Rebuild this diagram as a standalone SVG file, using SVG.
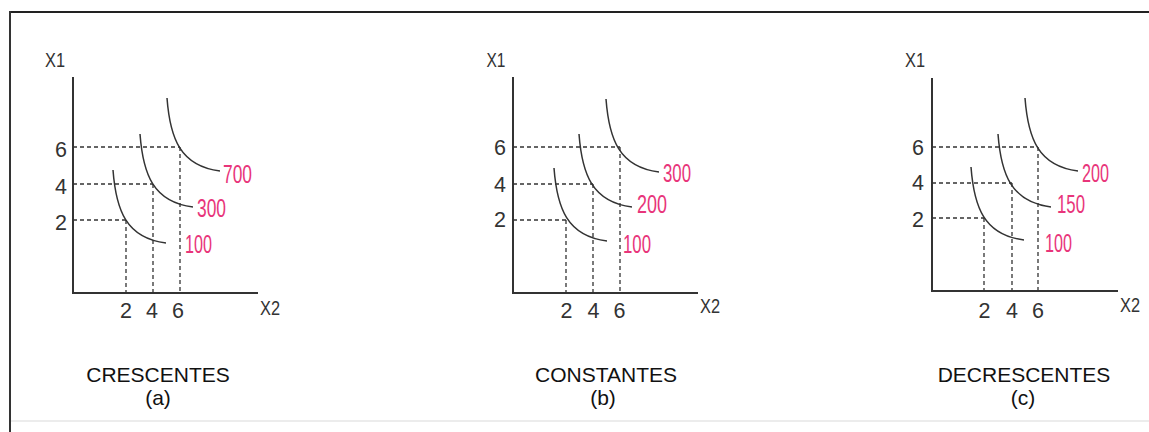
<svg xmlns="http://www.w3.org/2000/svg" width="1149" height="432" viewBox="0 0 1149 432">
<style>
.axis{fill:none;stroke:#333;stroke-width:2}
.curve{fill:none;stroke:#333;stroke-width:1.5}
.dash{fill:none;stroke:#333;stroke-width:1.3;stroke-dasharray:4 3}
.lab{font-family:"Liberation Sans",Arial,sans-serif;font-size:20px;fill:#333;text-anchor:middle}
.dig{font-family:"Liberation Sans",Arial,sans-serif;font-size:21.5px;fill:#333;text-anchor:middle}
.pink{font-family:"Liberation Sans",Arial,sans-serif;font-size:25px;fill:#e8357a}
.cap{font-family:"Liberation Sans",Arial,sans-serif;font-size:21px;fill:#111;text-anchor:middle}
</style>
<rect width="1149" height="432" fill="#fff"/>
<g id="frame">
<line x1="10" y1="12" x2="1149" y2="12" stroke="#222" stroke-width="2"/>
<line x1="10" y1="11" x2="10" y2="432" stroke="#333" stroke-width="2"/>
<line x1="11" y1="421" x2="1149" y2="421" stroke="#ececec" stroke-width="2"/>
</g>

<g id="panel-a">
<path class="axis" d="M73,77 V293 H258"/>
<g class="dash">
<path d="M73,147 H180 M73,184 H153 M73,220 H126"/>
<path d="M126,220 V293 M153,184 V293 M180,147 V293"/>
</g>
<g class="curve">
<path d="M113,170 c3,40 13,68 53,73"/>
<path d="M140,134 c3,40 13,68 53,73"/>
<path d="M167,98 c3,40 13,68 53,73"/>
</g>
<text class="lab" x="55" y="67" textLength="20" lengthAdjust="spacingAndGlyphs">X1</text>
<text class="lab" x="270" y="315" textLength="20" lengthAdjust="spacingAndGlyphs">X2</text>
<text class="dig" x="61" y="157">6</text>
<text class="dig" x="61" y="194">4</text>
<text class="dig" x="61" y="230">2</text>
<text class="dig" x="126" y="318">2</text>
<text class="dig" x="152" y="318">4</text>
<text class="dig" x="178" y="318">6</text>
<text class="pink" x="223" y="183" textLength="29" lengthAdjust="spacingAndGlyphs">700</text>
<text class="pink" x="197" y="217" textLength="29" lengthAdjust="spacingAndGlyphs">300</text>
<text class="pink" x="185" y="253" textLength="27" lengthAdjust="spacingAndGlyphs">100</text>
<text class="cap" x="158" y="382">CRESCENTES</text>
<text class="cap" x="158" y="405">(a)</text>
</g>

<g id="panel-b">
<path class="axis" d="M513,77 V293 H698"/>
<g class="dash">
<path d="M513,147 H620 M513,184 H593 M513,220 H566"/>
<path d="M566,220 V293 M593,184 V293 M620,147 V293"/>
</g>
<g class="curve">
<path d="M554,168 c3,40 13,68 53,73"/>
<path d="M579,134 c3,40 13,68 53,73"/>
<path d="M606,99 c3,40 13,68 53,73"/>
</g>
<text class="lab" x="496" y="67" textLength="19" lengthAdjust="spacingAndGlyphs">X1</text>
<text class="lab" x="710" y="313" textLength="20" lengthAdjust="spacingAndGlyphs">X2</text>
<text class="dig" x="500" y="155">6</text>
<text class="dig" x="500" y="192">4</text>
<text class="dig" x="500" y="227">2</text>
<text class="dig" x="566.5" y="318">2</text>
<text class="dig" x="593.5" y="318">4</text>
<text class="dig" x="619.5" y="318">6</text>
<text class="pink" x="663" y="182" textLength="28" lengthAdjust="spacingAndGlyphs">300</text>
<text class="pink" x="637" y="213" textLength="30" lengthAdjust="spacingAndGlyphs">200</text>
<text class="pink" x="623" y="253" textLength="28" lengthAdjust="spacingAndGlyphs">100</text>
<text class="cap" x="606" y="382">CONSTANTES</text>
<text class="cap" x="603" y="405">(b)</text>
</g>

<g id="panel-c">
<path class="axis" d="M932,78 V291 H1118"/>
<g class="dash">
<path d="M932,147 H1038 M932,183 H1012 M932,218 H984"/>
<path d="M984,218 V291 M1012,183 V291 M1038,147 V291"/>
</g>
<g class="curve">
<path d="M971,167 c3,40 13,68 53,73"/>
<path d="M998,134 c3,40 13,68 53,73"/>
<path d="M1025,98 c3,40 13,68 53,73"/>
</g>
<text class="lab" x="915" y="67" textLength="20" lengthAdjust="spacingAndGlyphs">X1</text>
<text class="lab" x="1130" y="312" textLength="20" lengthAdjust="spacingAndGlyphs">X2</text>
<text class="dig" x="918" y="155">6</text>
<text class="dig" x="918" y="190">4</text>
<text class="dig" x="918" y="227">2</text>
<text class="dig" x="984.5" y="318">2</text>
<text class="dig" x="1012" y="318">4</text>
<text class="dig" x="1038" y="318">6</text>
<text class="pink" x="1082" y="182" textLength="27" lengthAdjust="spacingAndGlyphs">200</text>
<text class="pink" x="1057" y="213" textLength="28" lengthAdjust="spacingAndGlyphs">150</text>
<text class="pink" x="1045" y="252" textLength="27" lengthAdjust="spacingAndGlyphs">100</text>
<text class="cap" x="1024" y="382">DECRESCENTES</text>
<text class="cap" x="1023" y="405">(c)</text>
</g>
</svg>
